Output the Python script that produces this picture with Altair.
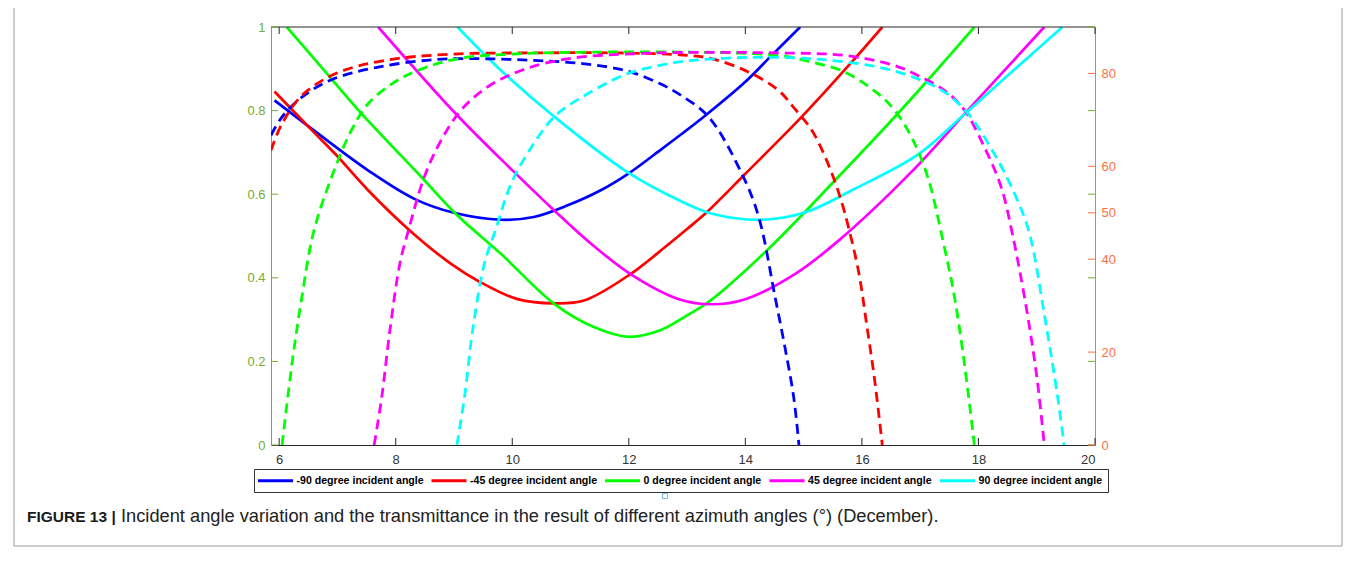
import altair as alt
import pandas as pd

# ---------------- data ----------------
SERIES = ["-90 degree incident angle", "-45 degree incident angle",
          "0 degree incident angle", "45 degree incident angle",
          "90 degree incident angle"]
COLORS = ["#0000FF", "#FF0000", "#00FF00", "#FF00FF", "#00FFFF"]

# incident angle (degrees, right axis) - solid lines
ang_m90_t = [5.92, 6.59, 7.53, 8.32, 9.0, 9.81, 10.37, 10.95, 11.51, 12.0, 12.54, 12.9, 13.32, 14.0, 14.46, 14.94]
ang_m90_v = [74.2, 67.8, 59.1, 53.0, 50.0, 48.5, 49.1, 51.6, 54.8, 58.5, 63.5, 66.9, 71.0, 78.2, 84.0, 90.0]
ang_m45_t = [5.92, 6.56, 6.96, 7.53, 8.24, 8.95, 9.46, 10.09, 10.72, 11.23, 12.03, 12.65, 13.0, 13.37, 14.0, 14.97, 15.85, 16.35]
ang_m45_v = [76.1, 67.8, 62.7, 54.8, 46.2, 39.0, 35.0, 31.4, 30.5, 31.1, 36.8, 42.9, 46.5, 50.5, 58.4, 70.7, 82.8, 90.0]
ang_0_t = [6.13, 6.9, 7.41, 8.44, 9.06, 9.81, 10.72, 11.4, 12.0, 12.54, 13.0, 13.37, 14.37, 15.54, 16.59, 17.1, 17.93]
ang_0_v = [90.0, 78.8, 71.4, 57.7, 49.4, 41.1, 30.4, 25.4, 23.3, 24.7, 27.9, 30.8, 41.9, 57.0, 71.0, 78.1, 90.0]
ang_45_t = [7.7, 9.01, 10.03, 10.72, 11.29, 12.03, 12.86, 13.43, 14.0, 14.85, 15.6, 16.85, 17.82, 19.13]
ang_45_v = [90.0, 71.6, 58.8, 50.5, 44.0, 36.8, 31.4, 30.3, 31.4, 36.8, 44.0, 58.8, 72.1, 90.0]
ang_90_t = [9.06, 9.81, 10.72, 11.97, 12.86, 13.43, 14.28, 15.03, 15.82, 16.96, 17.76, 18.56, 19.44]
ang_90_v = [90.0, 80.6, 70.7, 58.8, 52.7, 49.8, 48.5, 50.1, 54.8, 62.5, 71.2, 80.2, 90.0]

# transmittance (0-1, left axis) - dashed lines
tr_m90_t = [5.86, 6.05, 6.39, 6.9, 7.7, 8.67, 9.52, 10.38, 11.23, 11.97, 12.54, 12.9, 13.37, 13.94, 14.23, 14.51, 14.68, 14.83, 14.92]
tr_m90_v = [0.741, 0.785, 0.832, 0.874, 0.904, 0.922, 0.924, 0.920, 0.912, 0.895, 0.864, 0.836, 0.785, 0.649, 0.545, 0.354, 0.233, 0.114, 0.0]
tr_m45_t = [5.86, 6.05, 6.39, 6.96, 7.81, 8.95, 10.37, 11.8, 12.93, 13.43, 14.06, 14.57, 14.85, 15.14, 15.37, 15.57, 15.71, 15.94, 16.08, 16.22, 16.35]
tr_m45_v = [0.705, 0.769, 0.836, 0.888, 0.920, 0.935, 0.938, 0.938, 0.933, 0.924, 0.892, 0.848, 0.804, 0.753, 0.689, 0.617, 0.553, 0.417, 0.29, 0.154, 0.0]
tr_0_t = [6.05, 6.22, 6.39, 6.59, 6.9, 7.24, 7.53, 7.98, 8.38, 9.06, 10.09, 11.52, 12.93, 14.57, 15.14, 15.71, 16.28, 16.56, 16.85, 17.13, 17.39, 17.59, 17.76, 17.93]
tr_0_v = [0.0, 0.194, 0.354, 0.509, 0.641, 0.753, 0.817, 0.868, 0.896, 0.924, 0.936, 0.940, 0.940, 0.932, 0.916, 0.892, 0.840, 0.801, 0.737, 0.641, 0.489, 0.353, 0.194, 0.0]
tr_45_t = [7.63, 7.76, 7.9, 8.07, 8.21, 8.49, 8.78, 9.12, 9.58, 10.15, 10.95, 12.09, 12.93, 14.57, 15.71, 16.56, 16.96, 17.42, 17.76, 18.1, 18.39, 18.59, 18.84, 19.01, 19.13]
tr_45_v = [0.0, 0.114, 0.274, 0.433, 0.509, 0.641, 0.729, 0.801, 0.857, 0.896, 0.924, 0.936, 0.939, 0.938, 0.932, 0.908, 0.884, 0.848, 0.801, 0.713, 0.617, 0.50, 0.313, 0.154, 0.0]
tr_90_t = [9.05, 9.18, 9.32, 9.52, 9.7, 9.98, 10.26, 10.72, 11.29, 11.97, 12.66, 12.93, 14.0, 15.14, 16.28, 16.96, 17.42, 17.82, 18.27, 18.62, 18.87, 19.13, 19.36, 19.47]
tr_90_v = [0.0, 0.114, 0.274, 0.433, 0.509, 0.625, 0.697, 0.785, 0.840, 0.888, 0.912, 0.918, 0.927, 0.924, 0.904, 0.876, 0.844, 0.793, 0.697, 0.601, 0.509, 0.313, 0.114, 0.0]

X_TICKS = [6, 8, 10, 12, 14, 16, 18, 20]
LEFT_TICKS = [0, 0.2, 0.4, 0.6, 0.8, 1]
RIGHT_TICKS = [0, 20, 40, 50, 60, 80]
CAPTION_BOLD = ["FIGURE 13 |"]
CAPTION_TEXT = ["Incident angle variation and the transmittance in the result of different azimuth angles (\u00b0) (December)."]

# ---------------- tables ----------------
def long(pairs, vname):
    rows = []
    for name, (ts, vs) in zip(SERIES, pairs):
        for t, v in zip(ts, vs):
            rows.append({"t": t, vname: v, "series": name})
    return pd.DataFrame(rows)

angle_df = long([(ang_m90_t, ang_m90_v), (ang_m45_t, ang_m45_v), (ang_0_t, ang_0_v),
                 (ang_45_t, ang_45_v), (ang_90_t, ang_90_v)], "deg")
trans_df = long([(tr_m90_t, tr_m90_v), (tr_m45_t, tr_m45_v), (tr_0_t, tr_0_v),
                 (tr_45_t, tr_45_v), (tr_90_t, tr_90_v)], "tau")

W, H = 824, 418
FONT = "Liberation Sans"
GREEN = "#77AC30"
ORANGE = "#FF7040"
DARK = "#262626"

xscale = alt.Scale(domain=[5.86, 20], nice=False, zero=False)
xaxis = alt.Axis(values=X_TICKS, ticks=False, grid=False, title=None, domainColor=DARK,
                 labelColor="#333333", labelFont=FONT, labelFontSize=13, labelPadding=8)
lscale = alt.Scale(domain=[0, 1], nice=False, zero=False)
rscale = alt.Scale(domain=[0, 90], nice=False, zero=False)

# long, flat line symbol: a custom path scaled by sqrt(size)/2
legend = alt.Legend(title=None, orient="none", legendX=-17, legendY=442, direction="horizontal",
                    symbolType="M-3.5,0H3.5", symbolSize=100, symbolStrokeWidth=3,
                    symbolOffset=10, labelOffset=14.5,
                    labelFont=FONT, labelFontWeight="bold", labelFontSize=10.6, labelColor="#000000",
                    labelLimit=400, columnPadding=1.5, padding=5,
                    strokeColor="#333333", fillColor="#ffffff")
cscale = alt.Scale(domain=SERIES, range=COLORS)
color = alt.Color("series:N", scale=cscale, legend=legend)

solid = alt.Chart(angle_df).mark_line(strokeWidth=2.7, clip=True,
                                      interpolate="catmull-rom").encode(
    x=alt.X("t:Q", scale=xscale, axis=xaxis),
    y=alt.Y("deg:Q", scale=rscale,
            axis=alt.Axis(orient="right", values=RIGHT_TICKS, ticks=False, grid=False, title=None,
                          domainColor=ORANGE, labelColor=ORANGE, labelFont=FONT,
                          labelFontSize=13, labelPadding=6)),
    color=color,
)

dashed = alt.Chart(trans_df).mark_line(strokeDash=[10, 6], strokeWidth=2.8, clip=True,
                                       interpolate="catmull-rom").encode(
    x=alt.X("t:Q", scale=xscale, axis=xaxis),
    y=alt.Y("tau:Q", scale=lscale,
            axis=alt.Axis(orient="left", values=LEFT_TICKS, format="~g", ticks=False, grid=False,
                          title=None, domainColor=GREEN, labelColor=GREEN, labelFont=FONT,
                          labelFontSize=13, labelPadding=6)),
    color=color,
)

xt_df = pd.DataFrame({"t": X_TICKS})
bot_ticks = alt.Chart(xt_df).mark_rule(color=DARK, strokeWidth=1).encode(
    x=alt.X("t:Q", scale=xscale, axis=xaxis), y=alt.value(H), y2=alt.value(H - 7))
top_ticks = alt.Chart(xt_df).mark_rule(color=DARK, strokeWidth=1).encode(
    x=alt.X("t:Q", scale=xscale, axis=xaxis), y=alt.value(0), y2=alt.value(7))
top_line = alt.Chart(pd.DataFrame({"a": [0]})).mark_rule(color=DARK, strokeWidth=1).encode(
    x=alt.value(0), x2=alt.value(W), y=alt.value(0))

lt_df = pd.DataFrame({"v": LEFT_TICKS})
left_ticks = alt.Chart(lt_df).mark_rule(color=GREEN, strokeWidth=1).encode(
    y=alt.Y("v:Q", scale=lscale, axis=None), x=alt.value(0), x2=alt.value(7))
right_green = alt.Chart(lt_df).mark_rule(color=GREEN, strokeWidth=1).encode(
    y=alt.Y("v:Q", scale=lscale, axis=None), x=alt.value(W - 7), x2=alt.value(W))
rt_df = pd.DataFrame({"v": RIGHT_TICKS})
right_ticks = alt.Chart(rt_df).mark_rule(color=ORANGE, strokeWidth=1).encode(
    y=alt.Y("v:Q", scale=rscale, axis=None), x=alt.value(W - 7), x2=alt.value(W))

frame = alt.Chart(pd.DataFrame({"a": [0]})).mark_rect(filled=False, stroke="#9a9a9a",
                                                      strokeWidth=1).encode(
    x=alt.value(-257), x2=alt.value(1071), y=alt.value(-21), y2=alt.value(519))

marker = alt.Chart(pd.DataFrame({"a": [0]})).mark_square(filled=False, stroke="#3b9be0",
                                                         strokeWidth=1, size=25).encode(
    x=alt.value(394), y=alt.value(469))

cap1 = alt.Chart(pd.DataFrame({"c": CAPTION_BOLD})).mark_text(
    align="left", baseline="middle", font=FONT, fontSize=15.5, fontWeight="bold",
    color="#1a1a1a").encode(x=alt.value(-244), y=alt.value(490), text="c:N")
cap2 = alt.Chart(pd.DataFrame({"c": CAPTION_TEXT})).mark_text(
    align="left", baseline="middle", font=FONT, fontSize=18.25, color="#222222").encode(
    x=alt.value(-150), y=alt.value(490), text="c:N")

chart = alt.layer(
    solid, dashed, bot_ticks, top_ticks, top_line, left_ticks, right_green, right_ticks,
    frame, marker, cap1, cap2
).resolve_scale(y="independent").properties(
    width=W, height=H,
    autosize=alt.AutoSizeParams(type="none"),
    padding={"left": 263, "top": 19, "right": 253, "bottom": 110},
).configure_view(stroke=None)

chart.save("out.html", embed_options={"renderer": "svg", "actions": False})
